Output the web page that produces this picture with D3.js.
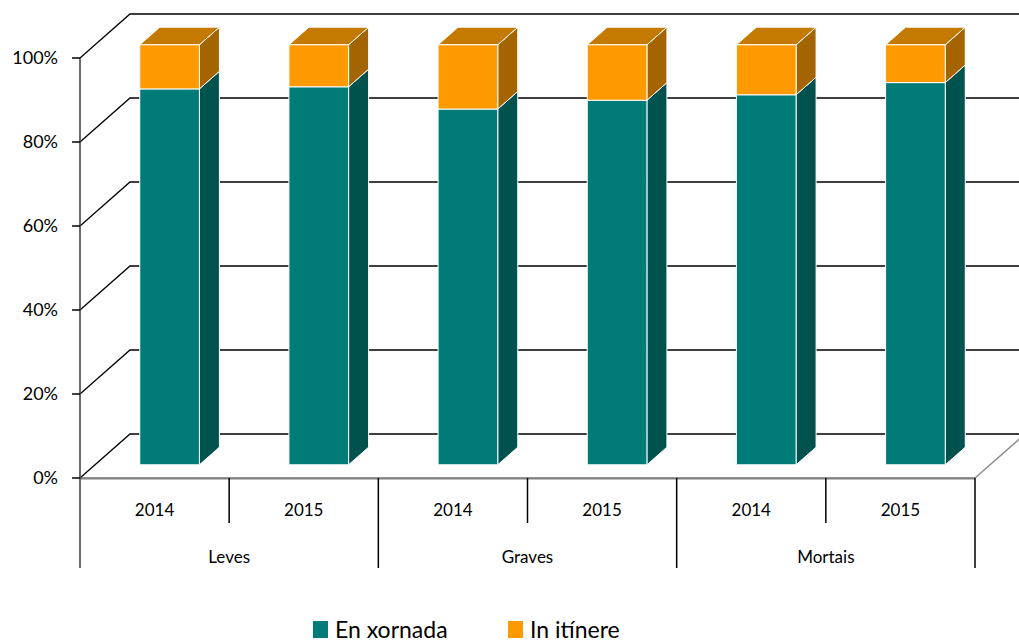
<!DOCTYPE html>
<html>
<head>
<meta charset="utf-8">
<script src="https://cdn.jsdelivr.net/npm/d3@7"></script>
<style>
  body { margin: 0; background: #fff; }
  svg { display: block; font-family: Lato, "Open Sans", sans-serif; }
</style>
</head>
<body>
<div id="chart"></div>
<script>
// data
const groups = ["Leves", "Graves", "Mortais"];
const years = ["2014", "2015"];
const enXornada = [89.5, 90.0, 84.7, 86.8, 88.1, 91.0];
const inItinere = [10.5, 10.0, 15.3, 13.2, 11.9, 9.0];
const yTicks = [0, 20, 40, 60, 80, 100];
const seriesNames = ["En xornada", "In itínere"];

const width = 1019, height = 643;
const svg = d3.select("#chart").append("svg")
    .attr("width", width)
    .attr("height", height);

// depth of the 3d box
const depth = { x: 50, y: -44 };
const barFront = 0.3, barBack = 0.7;

const cats = d3.range(groups.length * years.length);
const x = d3.scaleBand().domain(cats).range([80, 975]).padding(0);
const y = d3.scaleLinear().domain([0, 100]).range([478, 58]);

const colors = {
    teal: { front: "#017b78", side: "#00524f", top: "#02605d" },
    orange: { front: "#ff9900", side: "#a46400", top: "#c47a00" }
};

// gridlines (side wall + back wall)
svg.selectAll(".grid")
    .data(yTicks.filter(d => d > 0))
    .enter()
    .append("path")
    .attr("fill", "none")
    .attr("stroke", "#000")
    .attr("stroke-width", 1.3)
    .attr("d", d => `M80,${y(d)} L${80 + depth.x},${y(d) + depth.y} L${width},${y(d) + depth.y}`);

// floor
const y0 = y(0);
svg.append("path")
    .attr("fill", "none")
    .attr("stroke", "#000")
    .attr("stroke-width", 1.3)
    .attr("d", `M80,${y0} L${80 + depth.x},${y0 + depth.y} L${width},${y0 + depth.y}`);
svg.append("line")
    .attr("x1", 975).attr("y1", y0)
    .attr("x2", 975 + depth.x).attr("y2", y0 + depth.y)
    .attr("stroke", "#8c8c8c").attr("stroke-width", 1.5);
svg.append("line")
    .attr("x1", 80).attr("y1", y0 + 1)
    .attr("x2", 975).attr("y2", y0 + 1)
    .attr("stroke", "#bfbfbf").attr("stroke-width", 2);
svg.append("line")
    .attr("x1", 80).attr("y1", y0)
    .attr("x2", 975).attr("y2", y0)
    .attr("stroke", "#6e6e6e").attr("stroke-width", 1.5);

// bars
const barW = x.bandwidth() * 0.4;
function face(points) {
    return "M" + points.map(p => p.join(",")).join("L") + "Z";
}
function drawBlock(i, lo, hi, c, showTop) {
    const cx = x(i) + x.bandwidth() / 2 + depth.x * barFront;
    const oy = depth.y * barFront;
    const x0 = cx - barW / 2, x1 = cx + barW / 2;
    const yb = y(lo) + oy, yt = y(hi) + oy;
    const ddx = depth.x * (barBack - barFront), ddy = depth.y * (barBack - barFront);
    const g = svg.append("g").attr("stroke", "#fff").attr("stroke-width", 1).attr("stroke-linejoin", "round");
    g.append("path").attr("fill", c.side)
        .attr("d", face([[x1, yb], [x1 + ddx, yb + ddy], [x1 + ddx, yt + ddy], [x1, yt]]));
    if (showTop) {
        g.append("path").attr("fill", c.top)
            .attr("d", face([[x0, yt], [x1, yt], [x1 + ddx, yt + ddy], [x0 + ddx, yt + ddy]]));
    }
    g.append("path").attr("fill", c.front)
        .attr("d", face([[x0, yb], [x1, yb], [x1, yt], [x0, yt]]));
}
cats.forEach(i => {
    drawBlock(i, 0, enXornada[i], colors.teal, false);
    drawBlock(i, enXornada[i], enXornada[i] + inItinere[i], colors.orange, true);
});

// y axis
svg.append("line")
    .attr("x1", 80).attr("y1", y(100))
    .attr("x2", 80).attr("y2", 568)
    .attr("stroke", "#3a3a3a").attr("stroke-width", 1.5);
svg.selectAll(".ytick")
    .data(yTicks)
    .enter()
    .append("line")
    .attr("x1", 72).attr("x2", 80)
    .attr("y1", d => y(d)).attr("y2", d => y(d))
    .attr("stroke", "#000").attr("stroke-width", 1.5);
svg.selectAll(".ylabel")
    .data(yTicks)
    .enter()
    .append("text")
    .attr("x", 58)
    .attr("y", d => y(d))
    .attr("dy", "0.36em")
    .attr("text-anchor", "end")
    .attr("font-size", 18)
    .attr("fill", "#000")
    .text(d => d + "%");

// x axis: year ticks and group dividers
cats.forEach(i => {
    if (i === 0) return;
    const isGroup = i % years.length === 0;
    svg.append("line")
        .attr("x1", x(i)).attr("x2", x(i))
        .attr("y1", y0).attr("y2", isGroup ? 568 : 523)
        .attr("stroke", "#000").attr("stroke-width", 1.5);
});
svg.append("line")
    .attr("x1", 975).attr("x2", 975)
    .attr("y1", y0).attr("y2", 568)
    .attr("stroke", "#000").attr("stroke-width", 1.5);

svg.selectAll(".year")
    .data(cats)
    .enter()
    .append("text")
    .attr("x", d => x(d) + x.bandwidth() / 2)
    .attr("y", 516)
    .attr("text-anchor", "middle")
    .attr("font-size", 17)
    .text(d => years[d % years.length]);

svg.selectAll(".group")
    .data(groups)
    .enter()
    .append("text")
    .attr("x", (d, j) => x(j * years.length) + x.bandwidth())
    .attr("y", 563)
    .attr("text-anchor", "middle")
    .attr("font-size", 17)
    .text(d => d);

// legend
const legendX = [313, 508];
const legendColors = [colors.teal.front, colors.orange.front];
seriesNames.forEach((name, k) => {
    svg.append("rect")
        .attr("x", legendX[k]).attr("y", 621)
        .attr("width", 15).attr("height", 17)
        .attr("fill", legendColors[k]);
    svg.append("text")
        .attr("x", legendX[k] + 22).attr("y", 638)
        .attr("font-size", 23)
        .text(name);
});
</script>
</body>
</html>
